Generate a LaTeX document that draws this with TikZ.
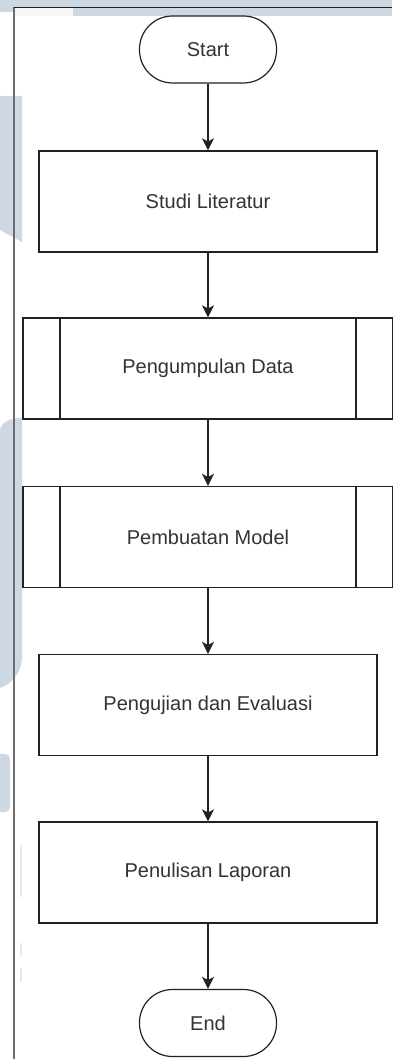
\documentclass[tikz,border=0pt]{standalone}
\usepackage{fontspec}
\setmainfont{Liberation Sans}
\usetikzlibrary{arrows.meta}
\definecolor{wm}{RGB}{205,216,227}
\definecolor{wmlight}{RGB}{226,233,240}
\definecolor{ln}{RGB}{34,34,34}
\definecolor{txt}{RGB}{51,51,51}
\definecolor{framegray}{RGB}{110,110,110}
\tikzset{
  box/.style={draw=ln, line width=1.2pt, fill=white, rectangle,
    minimum width=338pt, minimum height=101pt, inner sep=0pt,
    font=\fontsize{20}{24}\selectfont, text=txt},
  subbox/.style={box, minimum width=370pt},
  term/.style={draw=ln, line width=1.2pt, fill=white, rectangle,
    rounded corners=33pt, minimum width=137pt, minimum height=67pt,
    inner sep=0pt, font=\fontsize{20}{24}\selectfont, text=txt},
  arr/.style={draw=ln, line width=1.2pt, -{Stealth[length=12pt,width=12pt,inset=3pt]}},
  inner/.style={draw=ln, line width=1.2pt}
}
\begin{document}
\begin{tikzpicture}[x=1pt,y=-1pt]
\useasboundingbox (0,0) rectangle (392,1059);
% background
\fill[white] (0,0) rectangle (392,1059);
% watermark pieces
\fill[wm] (0,0) rectangle (392,16);
\fill[white] (0,12) rectangle (14,16);
\fill[black!3] (14,8) rectangle (73,16);
\fill[wm] (0,96) -- (22,96) -- (22,242) -- (0,230) -- cycle;
\fill[wm] (0,432) .. controls (0,422) and (10,418) .. (22,418) -- (22,657)
  .. controls (22,672) and (12,684) .. (0,688) -- cycle;
\fill[wm] (0,754) -- (5,754) .. controls (8,754) and (10,756) .. (10,759) -- (10,807)
  .. controls (10,810) and (8,812) .. (5,812) -- (0,812) -- cycle;
\fill[wmlight] (20,845) rectangle (22,897);
\fill[wmlight] (20,943) rectangle (22,956);
\fill[wmlight] (20,968) rectangle (22,982);
% frame
\draw[framegray, line width=1.3pt] (14,7.3) -- (14,1059);
\draw[ln, line width=1.3pt] (14,7.3) -- (392,7.3);
% nodes
\node[term] (start) at (208,49.5) {Start};
\node[box] (studi) at (208,201.5) {Studi Literatur};
\node[subbox] (data) at (208,368.5) {Pengumpulan Data};
\node[subbox] (model) at (208,537) {Pembuatan Model};
\node[box] (uji) at (208,705) {Pengujian dan Evaluasi};
\node[box] (lapor) at (208,872.5) {Penulisan Laporan};
\node[term] (end) at (208,1023) {End};
% subprocess inner lines
\draw[inner] ([xshift=-148pt]data.north) -- ([xshift=-148pt]data.south);
\draw[inner] ([xshift=148pt]data.north) -- ([xshift=148pt]data.south);
\draw[inner] ([xshift=-148pt]model.north) -- ([xshift=-148pt]model.south);
\draw[inner] ([xshift=148pt]model.north) -- ([xshift=148pt]model.south);
% connectors
\draw[arr] (start.south) -- (studi.north);
\draw[arr] (studi.south) -- (data.north);
\draw[arr] (data.south) -- (model.north);
\draw[arr] (model.south) -- (uji.north);
\draw[arr] (uji.south) -- (lapor.north);
\draw[arr] (lapor.south) -- (end.north);
\end{tikzpicture}
\end{document}
